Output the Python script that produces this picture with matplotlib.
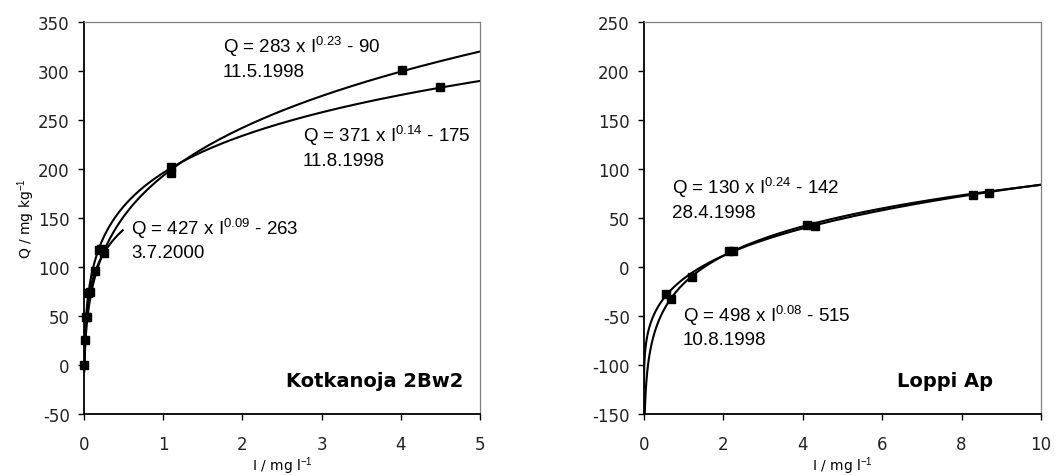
import numpy as np
import matplotlib
matplotlib.use('Agg')
import matplotlib.pyplot as plt

plt.rcParams['axes.unicode_minus'] = False
plt.rcParams['mathtext.fontset'] = 'custom'
plt.rcParams['mathtext.rm'] = 'Liberation Sans'
plt.rcParams['mathtext.it'] = 'Liberation Sans:italic'

# Kotkanoja 2Bw2 - mitatut pisteet (I mg/l, Q mg/kg)
kot_i_0598 = [0.044, 0.22, 1.10, 4.02]
kot_q_0598 = [49, 118, 202, 301]
kot_i_0898 = [0.056, 0.19, 1.10, 4.50]
kot_q_0898 = [73, 117, 196, 284]
kot_i_0700 = [0.005, 0.013, 0.032, 0.075, 0.145, 0.25]
kot_q_0700 = [0, 25, 49, 74, 96, 114]

# Loppi Ap
lop_i_0498 = [0.55, 2.15, 4.10, 8.30]
lop_q_0498 = [-28, 16, 43, 73]
lop_i_0898 = [0.68, 1.20, 2.25, 4.30, 8.70]
lop_q_0898 = [-33, -10, 16, 42, 75]

# sovitteet Q = a * I^b - c, (a, b, c, I max)
kot_fits = [(283, 0.23, 90, 5.0), (371, 0.14, 175, 5.0), (427, 0.09, 263, 0.49)]
lop_fits = [(130, 0.24, 142, 10.0), (498, 0.08, 515, 10.0)]

# tekstit: (x, y yhtälö, y pvm, yhtälö, pvm)
kot_labels = [(1.755, 319, 295, r'Q = 283 x I$^{0.23}$ - 90', '11.5.1998'),
              (2.765, 228, 204, r'Q = 371 x I$^{0.14}$ - 175', '11.8.1998'),
              (0.593, 134, 110, r'Q = 427 x I$^{0.09}$ - 263', '3.7.2000')]
lop_labels = [(0.705, 75, 51, r'Q = 130 x I$^{0.24}$ - 142', '28.4.1998'),
              (0.98, -55, -79, r'Q = 498 x I$^{0.08}$ - 515', '10.8.1998')]

ANN = 'Liberation Sans'
TICK = 'DejaVu Sans'


def muotoile(ax, xlim, ylim, xticks, yticks):
    ax.set_xlim(*xlim)
    ax.set_ylim(*ylim)
    ax.set_xticks(xticks)
    ax.set_yticks(yticks)
    for s in ['left', 'bottom']:
        ax.spines[s].set_color('black')
        ax.spines[s].set_linewidth(1.3)
    for s in ['top', 'right']:
        ax.spines[s].set_color('#808080')
        ax.spines[s].set_linewidth(0.9)
    ax.tick_params(direction='out', length=4.3, width=1.0, labelsize=12)
    ax.tick_params(axis='x', pad=11)
    ax.tick_params(axis='y', pad=6)
    for lab in ax.get_xticklabels() + ax.get_yticklabels():
        lab.set_family(TICK)
        lab.set_color('#222222')


def piirra(ax, fits, xmin):
    for a, b, c, xmax in fits:
        x = np.logspace(np.log10(xmin), np.log10(xmax), 600)
        ax.plot(x, a * x ** b - c, color='black', lw=1.5, zorder=2)


def tekstit(ax, labels):
    for x, ye, yd, eq, pvm in labels:
        ax.text(x, ye, eq, family=ANN, fontsize=13.5, va='baseline')
        ax.text(x, yd, pvm, family=ANN, fontsize=13.5, va='baseline')


fig = plt.figure(figsize=(10.6, 4.77), dpi=100)
ax1 = fig.add_axes([0.0792, 0.130, 0.3736, 0.822])
ax2 = fig.add_axes([0.6075, 0.130, 0.3745, 0.822])

# vasen paneeli
piirra(ax1, kot_fits, 0.005)
for xs, ys in [(kot_i_0598, kot_q_0598), (kot_i_0898, kot_q_0898), (kot_i_0700, kot_q_0700)]:
    ax1.plot(xs, ys, 's', color='black', ms=6, zorder=3, clip_on=False)
muotoile(ax1, (0, 5), (-50, 350), range(0, 6), range(-50, 351, 50))
tekstit(ax1, kot_labels)
ax1.text(4.785, -21, 'Kotkanoja 2Bw2', family='DejaVu Sans', fontweight='bold', fontsize=14,
         ha='right', va='baseline')
ax1.set_ylabel('Q / mg kg$^{-1}$', family='DejaVu Sans', fontsize=10, labelpad=1)
ax1.set_xlabel('I / mg l$^{-1}$', family='DejaVu Sans', fontsize=10, labelpad=1)

# oikea paneeli
piirra(ax2, lop_fits, 0.0003)
for xs, ys in [(lop_i_0498, lop_q_0498), (lop_i_0898, lop_q_0898)]:
    ax2.plot(xs, ys, 's', color='black', ms=6, zorder=3)
muotoile(ax2, (0, 10), (-150, 250), range(0, 11, 2), range(-150, 251, 50))
tekstit(ax2, lop_labels)
ax2.text(8.79, -121, 'Loppi Ap', family='DejaVu Sans', fontweight='bold', fontsize=14,
         ha='right', va='baseline')
ax2.set_xlabel('I / mg l$^{-1}$', family='DejaVu Sans', fontsize=10, labelpad=1)

fig.savefig('out.png', dpi=100)
